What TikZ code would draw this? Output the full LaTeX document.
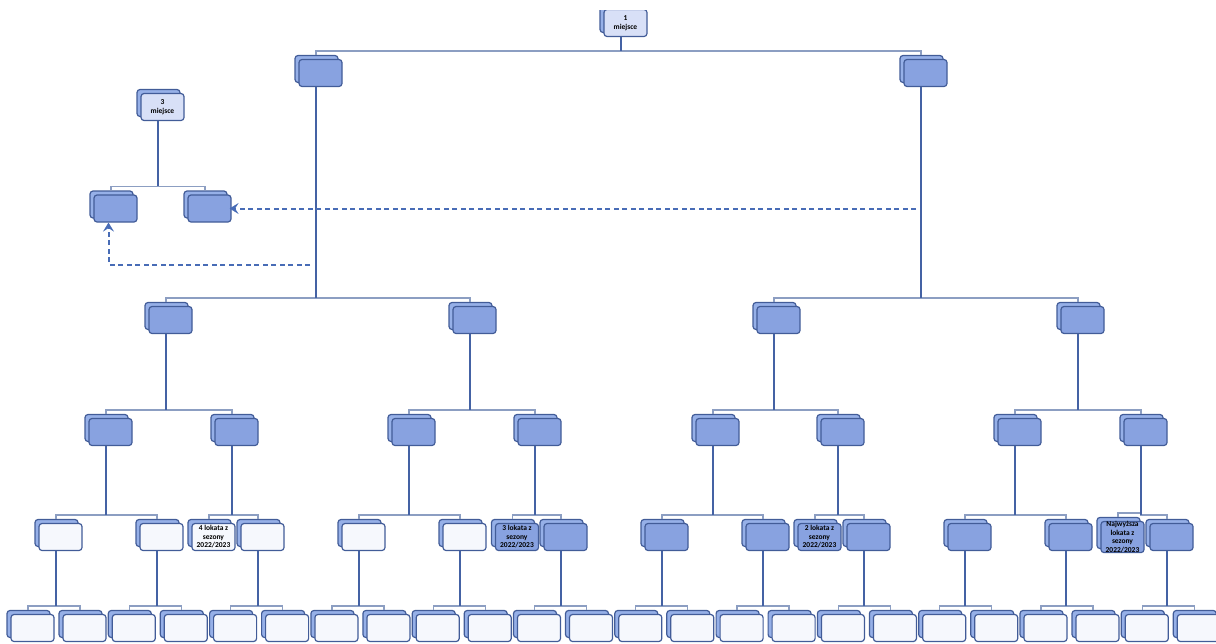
\documentclass[tikz,border=0pt]{standalone}
\usepackage{fontspec}
\setmainfont{Carlito}
\usetikzlibrary{shadows}
\usetikzlibrary{arrows.meta}
\usetikzlibrary{calc}

\definecolor{boxline}{RGB}{66,92,152}
\definecolor{boxblue}{RGB}{136,162,224}
\definecolor{boxback}{RGB}{150,176,232}
\definecolor{boxwhite}{RGB}{246,248,253}
\definecolor{boxplace}{RGB}{216,224,247}
\definecolor{trunkblue}{RGB}{68,98,164}
\definecolor{branchgray}{RGB}{140,158,194}
\definecolor{dashblue}{RGB}{72,108,182}

\begin{document}
\begin{tikzpicture}[x=1pt, y=-1pt,
	box/.style={rectangle, rounded corners=3pt, draw=boxline, line width=1.2pt,
		minimum width=43pt, minimum height=27pt, inner sep=0pt, align=center,
		font=\bfseries\fontsize{7.5}{8.5}\selectfont,
		copy shadow={shadow xshift=-4pt, shadow yshift=4pt, fill=boxback, draw=boxline}},
	bluebox/.style={box, fill=boxblue},
	whitebox/.style={box, fill=boxwhite},
	placebox/.style={box, fill=boxplace},
	branch/.style={branchgray, line width=1.3pt},
	trunk/.style={trunkblue, line width=1.6pt},
	jump/.style={dashblue, line width=2pt, dash pattern=on 5pt off 3.5pt,
		-{Stealth[length=9pt,width=11pt,inset=3.5pt]}}]
	\useasboundingbox (0,0) rectangle (1216,643);
	\clip (0,10) rectangle (1216,643);

	% final and first round
	\node[placebox] (root) at (625.5,23) {1\\miejsce};
	\node[bluebox] (a1) at (320.5,73) {};
	\node[bluebox] (a2) at (925.5,73) {};
	\foreach \n/\x in {b1/170.5, b2/474.5, b3/778.5, b4/1082.5}
		\node[bluebox] (\n) at (\x,320) {};
	\foreach \n/\x in {c1/110.5, c2/236.5, c3/413.5, c4/539.5, c5/717.5, c6/842.5, c7/1019.5, c8/1145.5}
		\node[bluebox] (\n) at (\x,432) {};

	% places from the season
	\foreach \k/\kind in {0/whitebox, 1/whitebox, 2/whitebox, 3/whitebox, 4/whitebox, 5/bluebox,
		6/bluebox, 7/bluebox, 8/bluebox, 9/bluebox, 10/bluebox, 11/bluebox}
		\node[\kind] (d\k) at (60.5+101*\k,537) {};
	\node[whitebox] (lok4) at (213.5,537) {4 lokata z\\sezony\\2022/2023};
	\node[bluebox] (lok3) at (517,537) {3 lokata z\\sezony\\2022/2023};
	\node[bluebox] (lok2) at (819.5,537) {2 lokata z\\sezony\\2022/2023};
	\node[bluebox] (lok1) at (1122.5,537) {Najwyższa\\lokata z\\sezony\\2022/2023};
	\foreach \k in {0,...,11}{
		\node[whitebox] (el\k) at (32.5+101.3*\k,628) {};
		\node[whitebox] (er\k) at (84.5+101.3*\k,628) {};
	}

	% third place
	\node[placebox] (p3) at (162.5,107) {3\\miejsce};
	\node[bluebox] (p3l) at (115.5,208.5) {};
	\node[bluebox] (p3r) at (209.5,208.5) {};

	\foreach \p/\c in {root/a1, root/a2, a1/b1, a1/b2, a2/b3, a2/b4,
		b1/c1, b1/c2, b2/c3, b2/c4, b3/c5, b3/c6, b4/c7, b4/c8,
		c1/d0, c1/d1, c2/lok4, c2/d2, c3/d3, c3/d4, c4/lok3, c4/d5,
		c5/d6, c5/d7, c6/lok2, c6/d8, c7/d9, c7/d10, c8/lok1, c8/d11,
		p3/p3l, p3/p3r}{
		\draw[branch] ([shift={(-4.5pt,4pt)}]\c.north) -- ++(0,-4) coordinate (bend)
			-| ([xshift=-4.5pt]\p.south) coordinate (top);
		\draw[trunk] (top) -- (top |- bend);
	}
	\foreach \k in {0,...,11}
		\foreach \c in {el\k, er\k}{
			\draw[branch] ([shift={(-4.5pt,4pt)}]\c.north) -- ++(0,-4) coordinate (bend)
				-| ([xshift=-4.5pt]d\k.south) coordinate (top);
			\draw[trunk] (top) -- (top |- bend);
		}

	% losers drop to the third place match
	\coordinate (from1) at (916,208.5);
	\coordinate (from2) at (310,264.5);
	\draw[jump] (from1) -- ([xshift=-2pt]p3r.east);
	\draw[jump] (from2) -| ([xshift=-7pt]p3l.south);
\end{tikzpicture}
\end{document}
